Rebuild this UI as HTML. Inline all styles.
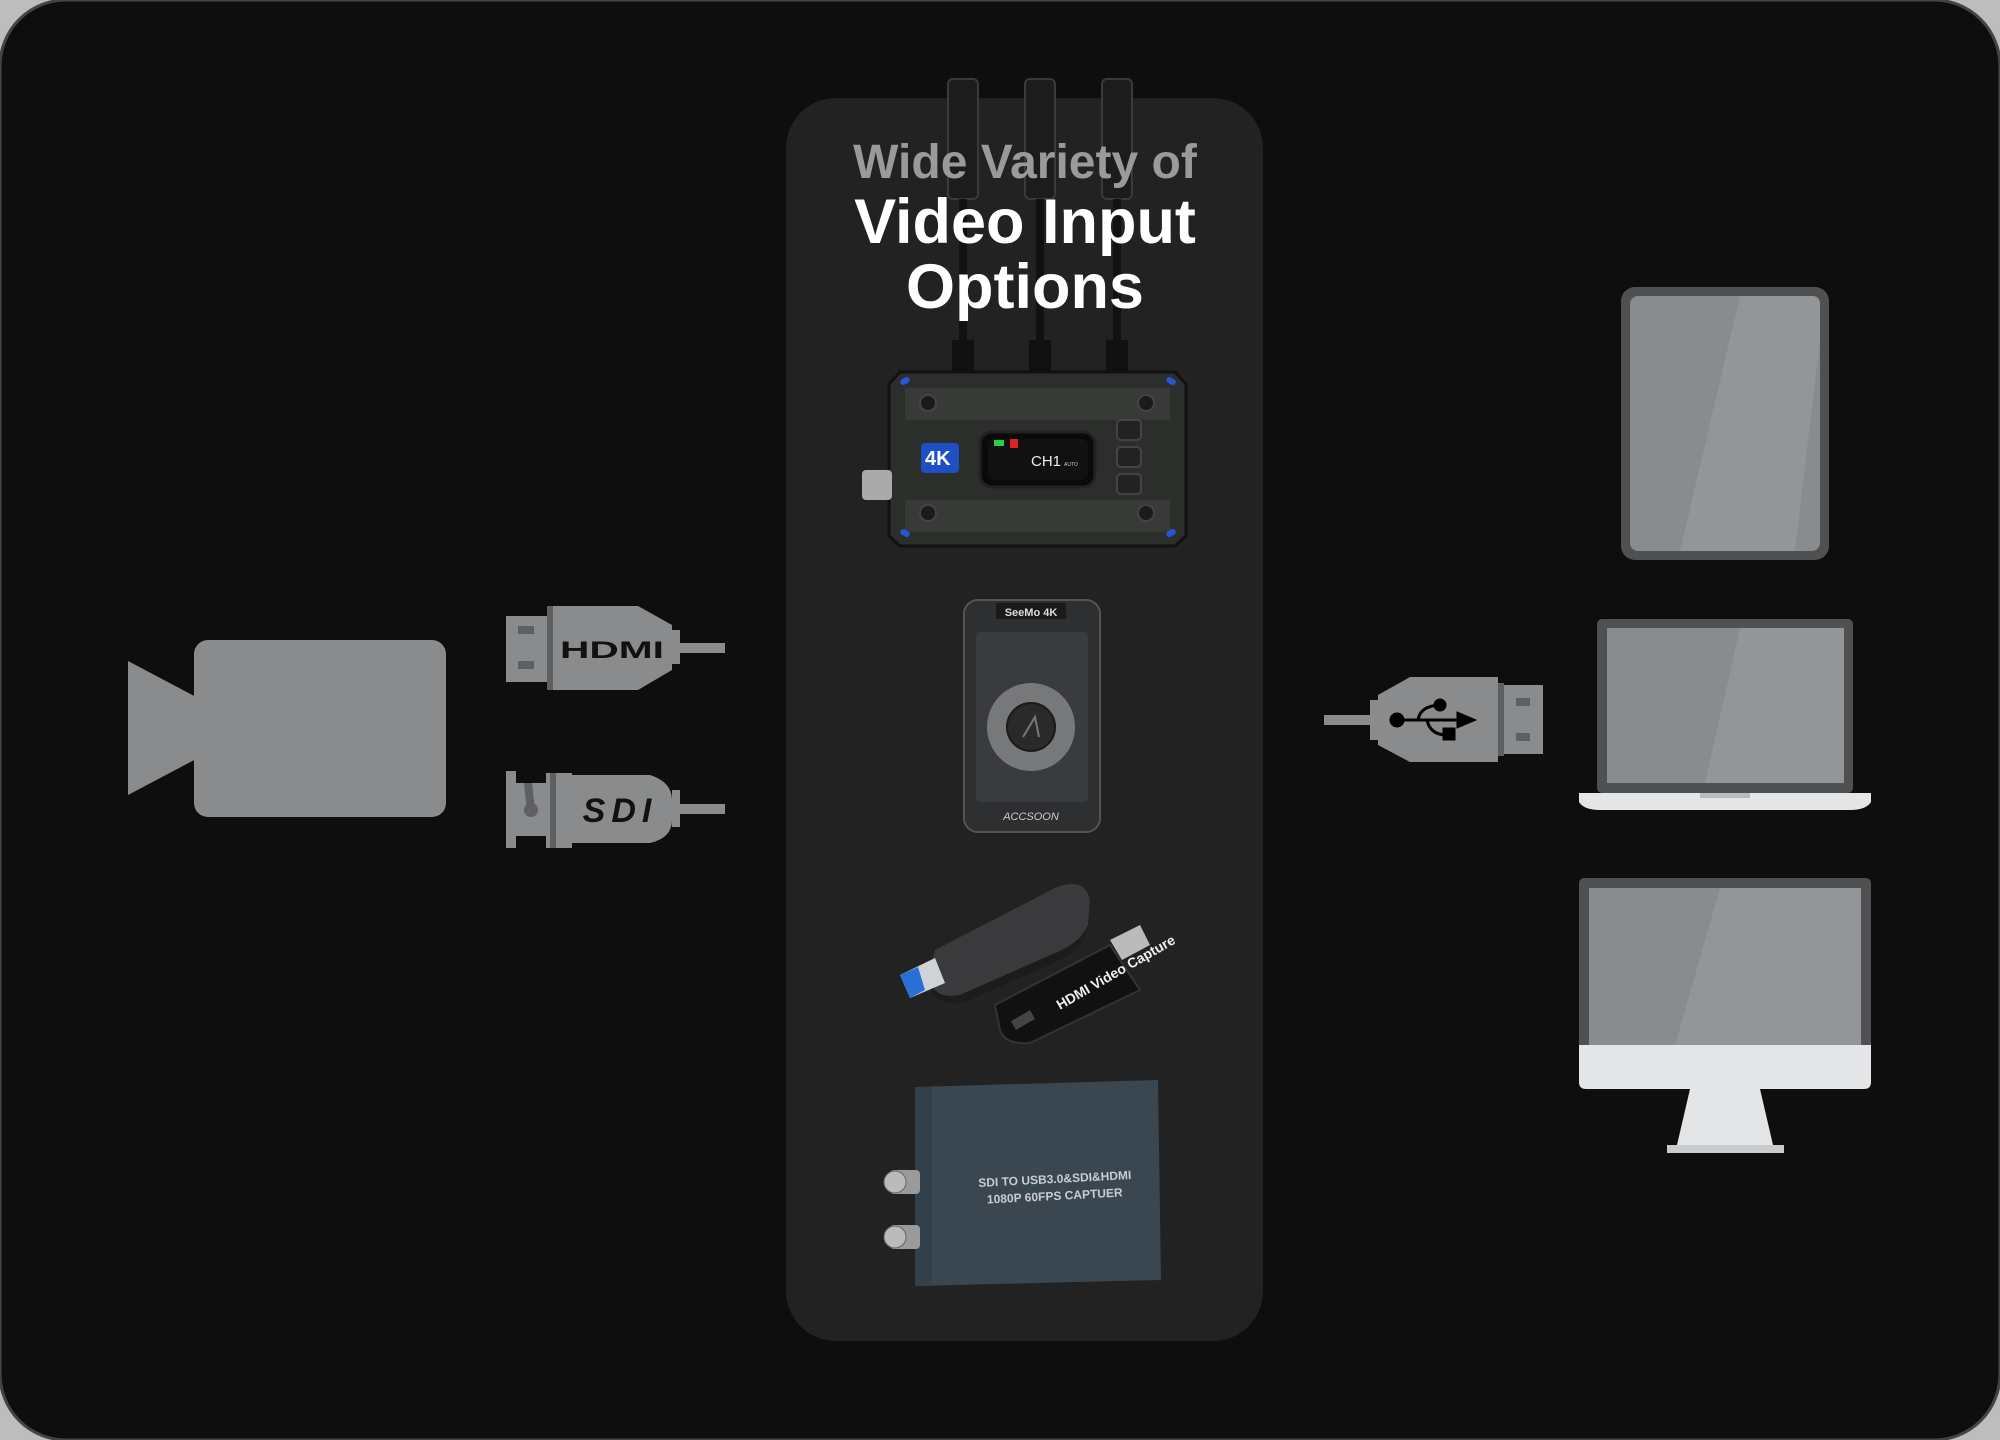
<!DOCTYPE html>
<html><head><meta charset="utf-8"><style>
html,body{margin:0;padding:0;background:#d8d8d8;width:2000px;height:1440px;overflow:hidden}
svg{display:block}
text{font-family:"Liberation Sans",sans-serif}
</style></head><body>
<svg width="2000" height="1440" viewBox="0 0 2000 1440" xmlns="http://www.w3.org/2000/svg">
<rect x="0" y="0" width="2000" height="1440" fill="#bdbdbd"/>
<rect x="0" y="0" width="2000" height="1440" rx="66" fill="#0e0e0e" stroke="#444" stroke-width="3"/>
<rect x="786" y="98" width="477" height="1243" rx="50" fill="#222222"/>

<g fill="#1c1c1c" stroke="#3a3a3a" stroke-width="2">
<rect x="948" y="79" width="30" height="120" rx="5"/>
<rect x="1025" y="79" width="30" height="120" rx="5"/>
<rect x="1102" y="79" width="30" height="120" rx="5"/>
</g>
<g fill="#111">
<rect x="959" y="199" width="8" height="150"/><rect x="1036" y="199" width="8" height="150"/><rect x="1113" y="199" width="8" height="150"/>
<rect x="952" y="340" width="22" height="40"/><rect x="1029" y="340" width="22" height="40"/><rect x="1106" y="340" width="22" height="40"/>
</g>

<g>
<path d="M900 372 L1175 372 L1186 384 L1186 536 L1175 546 L900 546 L889 536 L889 384 Z" fill="#2c2e2c" stroke="#111" stroke-width="3"/>
<path d="M905 388 L1170 388 L1170 420 L905 420 Z" fill="#383a38"/>
<path d="M905 500 L1170 500 L1170 532 L905 532 Z" fill="#383a38"/>
<rect x="980" y="432" width="115" height="55" rx="12" fill="#0a0a0a" stroke="#222" stroke-width="3"/>
<rect x="988" y="439" width="100" height="41" rx="6" fill="#111"/>
<rect x="994" y="440" width="10" height="6" fill="#2ecc40"/><rect x="1010" y="439" width="8" height="9" fill="#d22"/>
<text x="1031" y="466" fill="#eee" font-size="15">CH1</text>
<text x="1064" y="466" fill="#ccc" font-size="5">AUTO</text>
<rect x="921" y="443" width="38" height="30" rx="4" fill="#1f4fc4"/>
<text x="925" y="465" fill="#fff" font-size="20" font-weight="bold">4K</text>
<rect x="862" y="470" width="30" height="30" rx="4" fill="#aaa"/>
<g fill="#2855d8"><rect x="900" y="378" width="10" height="6" rx="3" transform="rotate(-30 905 381)"/><rect x="1166" y="378" width="10" height="6" rx="3" transform="rotate(30 1171 381)"/><rect x="900" y="530" width="10" height="6" rx="3" transform="rotate(30 905 533)"/><rect x="1166" y="530" width="10" height="6" rx="3" transform="rotate(-30 1171 533)"/></g>
<g fill="#1b1b1b" stroke="#444" stroke-width="2"><circle cx="928" cy="403" r="8"/><circle cx="1146" cy="403" r="8"/><circle cx="928" cy="513" r="8"/><circle cx="1146" cy="513" r="8"/></g>
<g fill="#222" stroke="#444" stroke-width="2"><rect x="1117" y="420" width="24" height="20" rx="4"/><rect x="1117" y="447" width="24" height="20" rx="4"/><rect x="1117" y="474" width="24" height="20" rx="4"/></g>
</g>

<text x="1025" y="178" text-anchor="middle" fill="#9a9a9a" font-size="48" font-weight="bold">Wide Variety of</text>
<text x="1025" y="243" text-anchor="middle" fill="#ffffff" font-size="63" font-weight="bold">Video Input</text>
<text x="1025" y="308" text-anchor="middle" fill="#ffffff" font-size="63" font-weight="bold">Options</text>

<rect x="964" y="600" width="136" height="232" rx="14" fill="#2e2f31" stroke="#555" stroke-width="2"/>
<rect x="976" y="632" width="112" height="170" rx="4" fill="#3a3b3e"/>
<rect x="996" y="603" width="70" height="16" fill="#1a1a1a"/>
<text x="1031" y="616" text-anchor="middle" fill="#ddd" font-size="11" font-weight="bold">SeeMo 4K</text>
<circle cx="1031" cy="727" r="44" fill="#77787a"/>
<circle cx="1031" cy="727" r="24" fill="#2a2a2c" stroke="#1a1a1a" stroke-width="2"/>
<path d="M1023 737 L1035 717 L1039 737" fill="none" stroke="#777" stroke-width="2"/>
<text x="1031" y="820" text-anchor="middle" fill="#ccc" font-size="11" font-style="italic">ACCSOON</text>

<g>
<path d="M935 950 L1055 888 Q1085 876 1090 900 L1088 925 Q1082 940 1062 950 L960 995 Q935 1000 928 980 Z" fill="#3a3a3c"/>
<path d="M930 980 Q935 1000 960 995 L1062 950 Q1082 940 1088 925 L1085 935 Q1080 950 1060 960 L965 1002 Q940 1008 930 990 Z" fill="#1c1c1d"/>
<path d="M900 975 L935 958 L945 983 L910 998 Z" fill="#cfd2d6"/>
<path d="M900 975 L918 967 L925 990 L910 998 Z" fill="#2a6fd6"/>
<path d="M995 1005 L1110 945 L1140 990 L1030 1043 Q1005 1045 1000 1030 Z" fill="#111" stroke="#333" stroke-width="2"/>
<path d="M1110 940 L1140 925 L1150 945 L1122 960 Z" fill="#bbb"/>
<text x="1060" y="1010" fill="#eee" font-size="14" transform="rotate(-30 1060 1010)" font-weight="bold">HDMI  Video Capture</text>
<rect x="1012" y="1015" width="22" height="10" fill="#444" transform="rotate(-30 1023 1020)"/>
</g>

<path d="M915 1087 L1158 1080 L1161 1280 L915 1286 Z" fill="#3a4650"/>
<path d="M915 1087 L932 1087 L932 1286 L915 1286 Z" fill="#31404a"/>
<rect x="890" y="1170" width="30" height="24" rx="4" fill="#9a9a9a"/>
<rect x="890" y="1225" width="30" height="24" rx="4" fill="#9a9a9a"/>
<circle cx="895" cy="1182" r="11" fill="#bbb" stroke="#666"/>
<circle cx="895" cy="1237" r="11" fill="#bbb" stroke="#666"/>
<text x="1055" y="1183" text-anchor="middle" fill="#c9ccd0" font-size="12" font-weight="bold" transform="rotate(-3 1055 1183)">SDI TO USB3.0&amp;SDI&amp;HDMI</text>
<text x="1055" y="1200" text-anchor="middle" fill="#c9ccd0" font-size="12" font-weight="bold" transform="rotate(-3 1055 1200)">1080P 60FPS CAPTUER</text>

<rect x="194" y="640" width="252" height="177" rx="14" fill="#898b8c"/>
<path d="M128 661 L198 698 L198 758 L128 795 Z" fill="#898b8c"/>

<g fill="#898b8c">
<rect x="506" y="616" width="42" height="66"/>
<rect x="547" y="606" width="6" height="84" fill="#5e5f60"/>
<path d="M553 606 L638 606 L672 625 L672 670 L638 690 L553 690 Z"/>
<rect x="672" y="630" width="8" height="34"/>
<rect x="680" y="643" width="45" height="10"/>
</g>
<rect x="518" y="626" width="16" height="8" fill="#5e5f60"/><rect x="518" y="661" width="16" height="8" fill="#5e5f60"/>
<text x="612" y="658" text-anchor="middle" fill="#111" font-size="24" font-weight="bold" textLength="104" lengthAdjust="spacingAndGlyphs">HDMI</text>

<g fill="#898b8c">
<rect x="506" y="771" width="10" height="77"/>
<rect x="516" y="783" width="32" height="53"/>
<rect x="546" y="773" width="26" height="75"/>
<path d="M572 775 L650 775 Q672 782 672 800 L672 820 Q672 838 650 843 L572 843 Z"/>
<rect x="672" y="790" width="8" height="37"/>
<rect x="680" y="804" width="45" height="10"/>
</g>
<rect x="550" y="773" width="6" height="75" fill="#5e5f60"/>
<path d="M524 783 L532 783 L535 810 L527 812 Z" fill="#5e5f60"/><circle cx="531" cy="810" r="7" fill="#5e5f60"/>
<text x="620" y="822" text-anchor="middle" fill="#111" font-size="34" font-weight="bold" font-style="italic" letter-spacing="6">SDI</text>

<g fill="#898b8c">
<rect x="1324" y="715" width="46" height="10"/>
<rect x="1370" y="700" width="8" height="40"/>
<path d="M1378 695 L1410 677 L1498 677 L1498 762 L1410 762 L1378 745 Z"/>
<rect x="1503" y="685" width="40" height="69"/>
</g>
<rect x="1498" y="683" width="6" height="73" fill="#5e5f60"/>
<rect x="1516" y="698" width="14" height="8" fill="#5e5f60"/><rect x="1516" y="733" width="14" height="8" fill="#5e5f60"/>
<g fill="#000" stroke="#000">
<circle cx="1397" cy="720" r="7"/>
<line x1="1397" y1="720" x2="1460" y2="720" stroke-width="3"/>
<path d="M1457 712 L1476 720 L1457 728 Z"/>
<path d="M1418 720 Q1420 706 1440 705" fill="none" stroke-width="3"/><circle cx="1440" cy="705" r="6"/>
<path d="M1427 720 Q1430 734 1445 735" fill="none" stroke-width="3"/><rect x="1443" y="728" width="12" height="12"/>
</g>

<rect x="1621" y="287" width="208" height="273" rx="14" fill="#4f5052"/>
<rect x="1630" y="296" width="190" height="255" rx="8" fill="#898b8c"/>
<path d="M1740 296 L1812 296 Q1820 296 1820 304 L1820 340 L1795 551 L1680 551 Z" fill="#939596"/>

<rect x="1597" y="619" width="256" height="174" rx="5" fill="#4f5052"/>
<rect x="1607" y="628" width="237" height="155" fill="#898b8c"/>
<path d="M1740 628 L1844 628 L1844 783 L1705 783 Z" fill="#939596"/>
<path d="M1579 793 L1871 793 L1871 802 Q1866 810 1850 810 L1600 810 Q1584 810 1579 802 Z" fill="#e3e5e7"/>
<rect x="1700" y="793" width="50" height="5" fill="#b8babc"/>

<rect x="1579" y="878" width="292" height="210" rx="5" fill="#4f5052"/>
<rect x="1589" y="888" width="272" height="157" fill="#898b8c"/>
<path d="M1720 888 L1861 888 L1861 1045 L1675 1045 Z" fill="#939596"/>
<path d="M1579 1045 L1871 1045 L1871 1082 Q1871 1089 1864 1089 L1586 1089 Q1579 1089 1579 1082 Z" fill="#e3e5e7"/>
<path d="M1690 1089 L1760 1089 L1773 1145 L1677 1145 Z" fill="#e3e5e7"/>
<rect x="1667" y="1145" width="117" height="8" fill="#c9cbcd"/>
</svg>
</body></html>
